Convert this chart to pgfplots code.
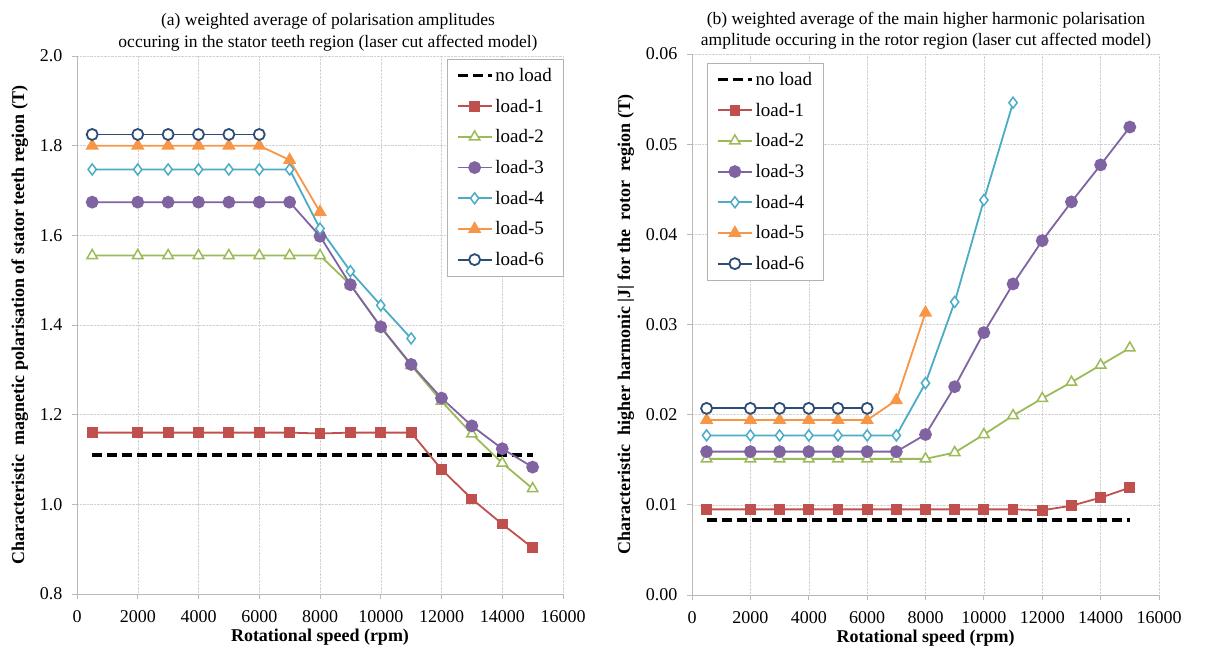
\documentclass[border=0pt]{standalone}
\usepackage{fontspec}
\setmainfont{Liberation Serif}
\usepackage{pgfplots}
\pgfplotsset{compat=1.18}
\definecolor{cRed}{HTML}{C0504D}
\definecolor{cGreen}{HTML}{9BBB59}
\definecolor{cPurple}{HTML}{8064A2}
\definecolor{cAqua}{HTML}{4BACC6}
\definecolor{cOrange}{HTML}{F79646}
\definecolor{cNavy}{HTML}{2C4D75}
\newcommand{\fs}{\fontsize{18}{21}\selectfont}
\pgfplotsset{
  legend image code/.code={\draw[mark repeat=2,mark phase=2,#1] plot coordinates {(0pt,0pt) (17pt,0pt) (34pt,0pt)};},
}
\pgfplotsset{
  common/.style={
    scale only axis,
    xmin=0, xmax=16000,
    xtick={0,2000,...,16000},
    grid=major,
    grid style={densely dotted, gray!35},
    axis x line*=bottom, axis y line*=left,
    axis line style={gray!55, line width=0.8pt},
    tick style={gray!55, line width=0.8pt},
    tick align=outside, major tick length=5pt,
    scaled ticks=false,
    /pgf/number format/1000 sep={},
    /pgf/number format/assume math mode=true,
    tick label style={font=\fs},
    xticklabel style={yshift=-8pt},
    yticklabel style={xshift=-6pt},
    label style={font=\fs\bfseries},
    xlabel={Rotational speed (rpm)},
    xlabel style={yshift=1pt},
    ylabel style={yshift=5pt},
    legend cell align=left,
    legend style={draw=gray!60, fill=white, font=\fontsize{19}{22}\selectfont,
      row sep=12pt, inner xsep=9pt, inner ysep=7pt,
      /tikz/every even column/.append style={column sep=2pt}},
  },
  nl/.style={black, line width=3.4pt, dash pattern=on 10pt off 5pt, no marks},
  l1/.style={cRed, line width=1.8pt, mark=square*, mark size=4.5pt, mark options={solid, fill=cRed}},
  l2/.style={cGreen, line width=1.8pt, mark=triangle*, mark size=6pt, mark options={solid, fill=white, line width=1.5pt}},
  l3/.style={cPurple, line width=1.8pt, mark=*, mark size=5.5pt, mark options={solid, fill=cPurple}},
  l4/.style={cAqua, line width=1.8pt, mark=diamond*, mark size=5.5pt, mark options={solid, fill=white, line width=1.5pt}},
  l5/.style={cOrange, line width=1.8pt, mark=triangle*, mark size=6pt, mark options={solid, fill=cOrange}},
  l6/.style={cNavy, line width=1.8pt, mark=*, mark size=5.5pt, mark options={solid, fill=white, line width=1.8pt}},
}
\begin{document}
\begin{tikzpicture}
\useasboundingbox (0pt,0pt) rectangle (1217pt,-651pt);
\node[align=center, font=\fontsize{17.5}{22}\selectfont] at (328pt,-32pt)
  {(a) weighted average of polarisation amplitudes\\occuring in the stator teeth region (laser cut affected model)};
\node[align=center, font=\fontsize{17.5}{21}\selectfont] at (926pt,-31pt)
  {(b) weighted average of the main higher harmonic polarisation\\amplitude occuring in the rotor region (laser cut affected model)};

\begin{axis}[common,
  at={(77pt,-594pt)}, anchor=south west,
  width=486pt, height=538pt,
  ymin=0.8, ymax=2.0, ytick={0.8,1.0,...,2.01},
  yticklabel style={/pgf/number format/fixed, /pgf/number format/fixed zerofill, /pgf/number format/precision=1},
  ylabel={Characteristic\ \ magnetic polarisation\ of stator teeth region (T)},
  legend style={at={(1,1)}, anchor=north east, yshift=-3pt},
]
\addplot[nl] coordinates {(500,1.11) (15000,1.11)};
\addlegendentry{no load}
\addplot[l1] coordinates {(500,1.160) (2000,1.160) (3000,1.160) (4000,1.160) (5000,1.160) (6000,1.160) (7000,1.160) (8000,1.158) (9000,1.160) (10000,1.160) (11000,1.160) (12000,1.078) (13000,1.012) (14000,0.956) (15000,0.903)};
\addlegendentry{load-1}
\addplot[l2] coordinates {(500,1.555) (2000,1.555) (3000,1.555) (4000,1.555) (5000,1.555) (6000,1.555) (7000,1.555) (8000,1.555) (9000,1.490) (10000,1.395) (11000,1.310) (12000,1.230) (13000,1.157) (14000,1.092) (15000,1.035)};
\addlegendentry{load-2}
\addplot[l3] coordinates {(500,1.674) (2000,1.674) (3000,1.674) (4000,1.674) (5000,1.674) (6000,1.674) (7000,1.674) (8000,1.598) (9000,1.490) (10000,1.396) (11000,1.312) (12000,1.237) (13000,1.175) (14000,1.124) (15000,1.083)};
\addlegendentry{load-3}
\addplot[l4] coordinates {(500,1.747) (2000,1.747) (3000,1.747) (4000,1.747) (5000,1.747) (6000,1.747) (7000,1.747) (8000,1.615) (9000,1.520) (10000,1.444) (11000,1.370)};
\addlegendentry{load-4}
\addplot[l5] coordinates {(500,1.800) (2000,1.800) (3000,1.800) (4000,1.800) (5000,1.800) (6000,1.800) (7000,1.768) (8000,1.652)};
\addlegendentry{load-5}
\addplot[l6] coordinates {(500,1.825) (2000,1.825) (3000,1.825) (4000,1.825) (5000,1.825) (6000,1.825)};
\addlegendentry{load-6}
\end{axis}

\begin{axis}[common,
  at={(692pt,-595pt)}, anchor=south west,
  width=467pt, height=541pt,
  ymin=0, ymax=0.06, ytick={0,0.01,...,0.061},
  yticklabel style={/pgf/number format/fixed, /pgf/number format/fixed zerofill, /pgf/number format/precision=2},
  ylabel={Characteristic\ \ higher harmonic |J| for the\ \ rotor\ \ region (T)},
  legend style={at={(0,1)}, anchor=north west, xshift=15pt, yshift=-9pt},
]
\addplot[nl] coordinates {(500,0.0083) (15000,0.0083)};
\addlegendentry{no load}
\addplot[l1] coordinates {(500,0.0095) (2000,0.0095) (3000,0.0095) (4000,0.0095) (5000,0.0095) (6000,0.0095) (7000,0.0095) (8000,0.0095) (9000,0.0095) (10000,0.0095) (11000,0.0095) (12000,0.0094) (13000,0.0099) (14000,0.0108) (15000,0.0119)};
\addlegendentry{load-1}
\addplot[l2] coordinates {(500,0.0151) (2000,0.0151) (3000,0.0151) (4000,0.0151) (5000,0.0151) (6000,0.0151) (7000,0.0151) (8000,0.0151) (9000,0.0158) (10000,0.0178) (11000,0.0199) (12000,0.0218) (13000,0.0236) (14000,0.0255) (15000,0.0274)};
\addlegendentry{load-2}
\addplot[l3] coordinates {(500,0.0159) (2000,0.0159) (3000,0.0159) (4000,0.0159) (5000,0.0159) (6000,0.0159) (7000,0.0159) (8000,0.0178) (9000,0.0231) (10000,0.0291) (11000,0.0345) (12000,0.0393) (13000,0.0436) (14000,0.0477) (15000,0.0519)};
\addlegendentry{load-3}
\addplot[l4] coordinates {(500,0.0177) (2000,0.0177) (3000,0.0177) (4000,0.0177) (5000,0.0177) (6000,0.0177) (7000,0.0177) (8000,0.0235) (9000,0.0325) (10000,0.0438) (11000,0.0546)};
\addlegendentry{load-4}
\addplot[l5] coordinates {(500,0.0194) (2000,0.0194) (3000,0.0194) (4000,0.0194) (5000,0.0194) (6000,0.0194) (7000,0.0216) (8000,0.0313)};
\addlegendentry{load-5}
\addplot[l6] coordinates {(500,0.0207) (2000,0.0207) (3000,0.0207) (4000,0.0207) (5000,0.0207) (6000,0.0207)};
\addlegendentry{load-6}
\end{axis}
\end{tikzpicture}
\end{document}
